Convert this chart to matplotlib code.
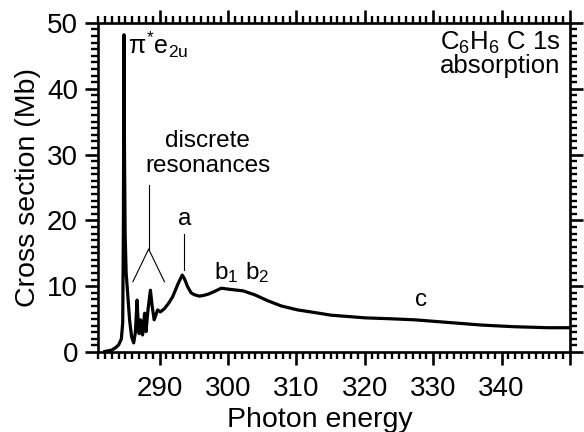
import matplotlib
matplotlib.use("Agg")
import matplotlib.pyplot as plt
from matplotlib.ticker import MultipleLocator, FixedLocator, FixedFormatter

plt.rcParams['font.family'] = ['Liberation Sans', 'DejaVu Sans']
plt.rcParams['mathtext.fontset'] = 'custom'
plt.rcParams['mathtext.rm'] = 'Liberation Sans'
plt.rcParams['mathtext.it'] = 'Liberation Sans'

# Spectrum data (photon energy in eV, cross section in Mb)
energy = [282.0, 283.0, 283.6, 284.0, 284.4, 284.6, 284.7, 284.78, 284.86, 284.95,
          285.1, 285.25, 285.6, 285.9, 286.2, 286.45, 286.7, 286.85, 287.0, 287.2,
          287.4, 287.5, 287.8, 288.0, 288.3, 288.65, 288.9, 289.2, 289.5, 289.7,
          290.1, 290.7, 291.3, 291.9, 292.7, 293.3, 293.6, 294.1, 294.6, 295.1,
          295.8, 296.4, 297.1, 298.0, 299.0, 300.5, 302.2, 303.9, 305.8, 307.8,
          310.2, 312.7, 315.1, 317.6, 320.0, 324.0, 327.3, 332.2, 337.1, 341.9,
          346.8, 350.0]
cross_section = [0.1, 0.3, 0.7, 1.1, 2.0, 4.5, 20.0, 48.2, 30.0, 18.0,
                 12.0, 9.9, 4.9, 2.3, 1.4, 3.0, 7.9, 4.5, 2.8, 4.9,
                 3.0, 2.6, 5.9, 3.1, 6.5, 9.4, 7.0, 4.9, 5.8, 6.4,
                 6.1, 6.6, 7.4, 8.4, 10.4, 11.7, 11.2, 9.9, 9.0, 8.7,
                 8.5, 8.6, 8.8, 9.2, 9.7, 9.5, 9.3, 8.7, 7.8, 7.0,
                 6.4, 6.0, 5.6, 5.4, 5.2, 5.05, 4.9, 4.5, 4.1, 3.85,
                 3.7, 3.7]

x_ticks = [290, 300, 310, 320, 330, 340, 350]
x_tick_labels = ['290', '300', '310', '320', '330', '340', '']
y_ticks = [0, 10, 20, 30, 40, 50]
y_tick_labels = ['0', '10', '20', '30', '40', '50']

fig = plt.figure(figsize=(5.84, 4.32), dpi=100)
ax = fig.add_axes([0.168, 0.185, 0.808, 0.762])

ax.plot(energy, cross_section, color='black', lw=2.3, solid_joinstyle='round')

ax.set_xlim(281, 350)
ax.set_ylim(0, 50)

ax.xaxis.set_major_locator(FixedLocator(x_ticks))
ax.xaxis.set_major_formatter(FixedFormatter(x_tick_labels))
ax.yaxis.set_major_locator(FixedLocator(y_ticks))
ax.yaxis.set_major_formatter(FixedFormatter(y_tick_labels))
ax.xaxis.set_minor_locator(MultipleLocator(1))
ax.yaxis.set_minor_locator(MultipleLocator(1))

for s in ax.spines.values():
    s.set_linewidth(1.9)

ax.tick_params(which='both', direction='out', top=True, right=True,
               labeltop=False, labelright=False)
ax.tick_params(which='major', length=9.5, width=1.9, labelsize=20, pad=5)
ax.tick_params(which='minor', length=5, width=1.7)
ax.tick_params(axis='x', which='major', pad=8)

ax.set_xlabel('Photon energy', fontsize=20.5, labelpad=3)
ax.xaxis.set_label_coords(0.47, -0.168)
ax.set_ylabel('Cross section (Mb)', fontsize=20.5, labelpad=4)

# Annotations
ax.text(285.3, 49.0, r'$\pi^{*}$e$_{2u}$', fontsize=18, ha='left', va='top')
ax.text(348.6, 48.9, r'C$_6$H$_6$ C 1s' + '\nabsorption', fontsize=18.5,
        ha='right', va='top', linespacing=0.9)
ax.text(297.0, 26.6, 'discrete\nresonances', fontsize=17.5, ha='center',
        va='bottom', linespacing=1.15)
ax.plot([288.39, 288.39], [25.4, 15.65], color='black', lw=0.8)
ax.plot([286.08, 288.39, 290.70], [10.68, 15.65, 10.68], color='black', lw=0.8)
ax.text(293.7, 19.3, 'a', fontsize=17.5, ha='center', va='baseline')
ax.plot([293.54, 293.54], [18.0, 12.5], color='black', lw=0.8)
ax.text(297.9, 11.1, r'b$_1$', fontsize=17.5, ha='left', va='baseline')
ax.text(302.5, 11.1, r'b$_2$', fontsize=17.5, ha='left', va='baseline')
ax.text(328.2, 7.0, 'c', fontsize=17.5, ha='center', va='baseline')

fig.savefig('out.png', dpi=100)
